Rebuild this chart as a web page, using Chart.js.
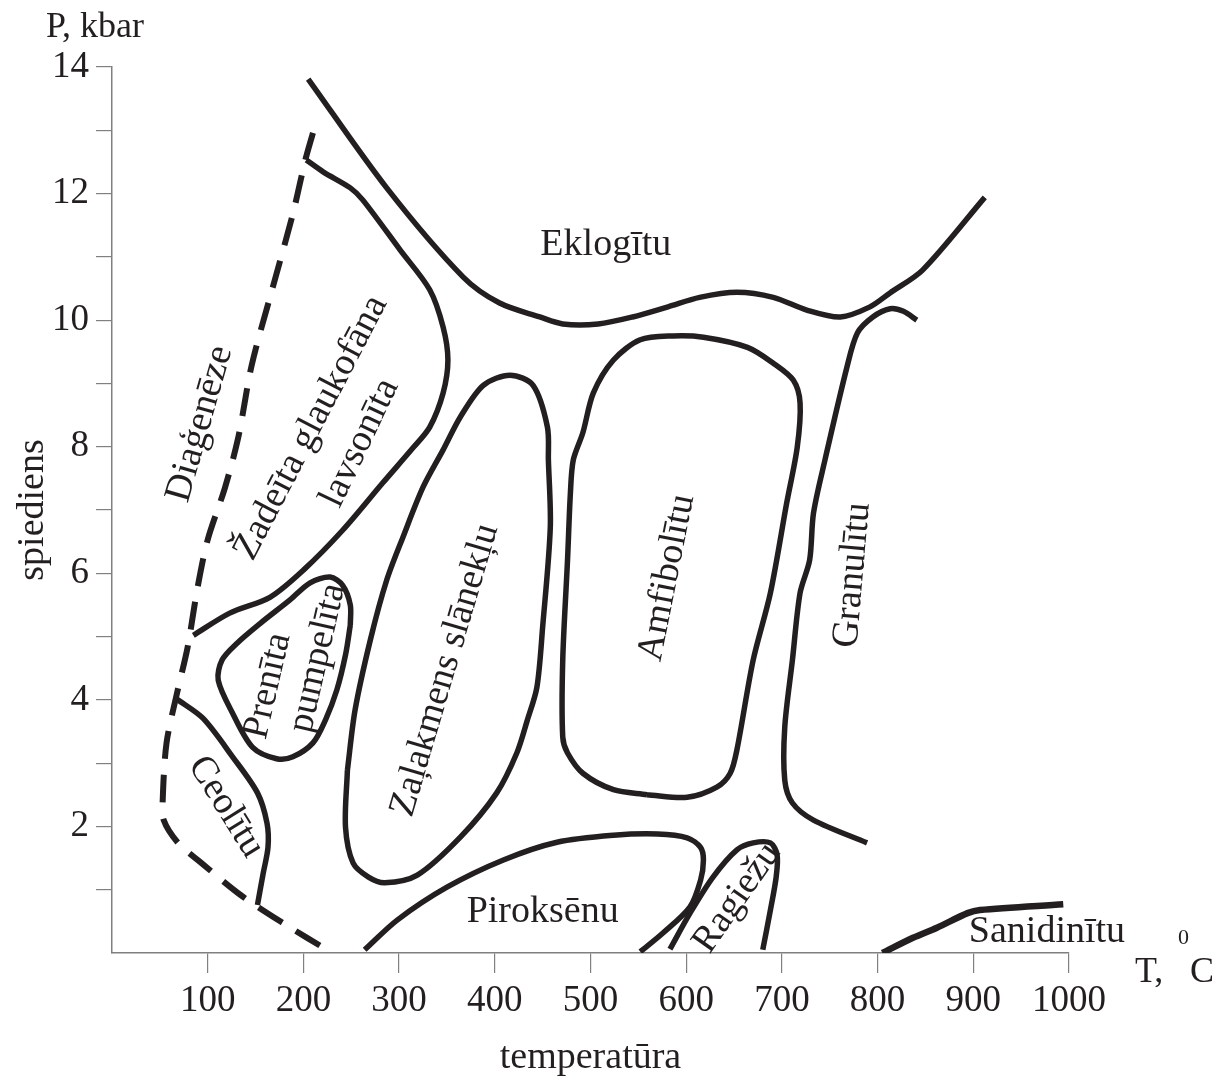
<!DOCTYPE html>
<html>
<head>
<meta charset="utf-8">
<script src="https://cdn.jsdelivr.net/npm/chart.js@4.4.0/dist/chart.umd.min.js"></script>
<style>
html, body { margin: 0; padding: 0; background: #fff; }
#wrap { width: 1218px; height: 1082px; }
</style>
</head>
<body>
<div id="wrap"><canvas id="chart" width="1218" height="1082"></canvas></div>
<script>
// facies boundaries, T in degC, P in kbar
var eclogiteT = [205, 287, 367, 405, 447, 471, 508, 544, 581, 614, 653, 691, 726, 761, 792, 813, 847, 912];
var eclogiteP = [13.81, 12.09, 10.68, 10.27, 10.05, 9.94, 9.94, 10.05, 10.21, 10.36, 10.44, 10.36, 10.16, 10.05, 10.21, 10.43, 10.79, 11.94];

var diagT = [210, 202, 189, 168, 146, 132, 118, 100, 89, 79, 68, 57, 53, 54, 69, 92, 134, 179, 228];
var diagP = [12.96, 12.53, 11.68, 10.52, 9.29, 8.15, 7.35, 6.53, 5.74, 4.83, 4.11, 3.32, 2.42, 2.10, 1.74, 1.44, 0.92, 0.47, 0.02];

var jadT = [203, 221, 249, 262, 301, 332, 346, 351, 346, 332, 315, 283, 241, 200, 165, 123, 85];
var jadP = [12.53, 12.34, 12.09, 11.90, 11.11, 10.48, 9.89, 9.37, 8.85, 8.31, 7.99, 7.43, 6.68, 6.05, 5.62, 5.37, 5.02];

var prehT = [249, 244, 235, 223, 210, 189, 172, 147, 126, 111, 115, 131, 155, 186, 207, 228, 241, 249, 249];
var prehP = [5.18, 4.71, 4.16, 3.68, 3.32, 3.10, 3.07, 3.25, 3.79, 4.31, 4.63, 4.90, 5.21, 5.58, 5.85, 5.94, 5.81, 5.50, 5.18];

var zeoT = [68, 95, 126, 152, 162, 163, 158, 152];
var zeoP = [4.01, 3.71, 3.10, 2.53, 2.05, 1.67, 1.26, 0.76];

var greenT = [246, 254, 270, 287, 304, 325, 346, 364, 388, 416, 440, 455, 456, 458, 450, 444, 434, 423, 402, 364, 319, 285, 268, 252, 244, 246];
var greenP = [2.89, 3.84, 4.95, 5.89, 6.57, 7.36, 7.95, 8.47, 8.97, 9.13, 8.97, 8.31, 7.79, 6.73, 5.15, 4.20, 3.68, 3.16, 2.53, 1.83, 1.23, 1.11, 1.20, 1.42, 1.99, 2.89];

var amphT = [559, 524, 492, 476, 471, 471, 476, 479, 482, 492, 503, 524, 552, 586, 618, 664, 691, 712, 719, 716, 705, 688, 670, 653, 646, 632, 601, 559];
var amphP = [2.50, 2.58, 2.84, 3.16, 3.41, 4.63, 6.21, 7.27, 7.79, 8.22, 8.85, 9.37, 9.69, 9.75, 9.73, 9.57, 9.32, 9.05, 8.69, 7.99, 7.11, 5.69, 4.63, 3.21, 2.84, 2.62, 2.46, 2.50];

var granT = [841, 827, 813, 795, 779, 768, 745, 733, 729, 719, 711, 703, 703, 711, 733, 789];
var granP = [10.0, 10.14, 10.18, 10.05, 9.80, 9.26, 7.79, 6.95, 6.21, 5.69, 4.63, 3.57, 2.73, 2.37, 2.10, 1.74];

var pyrT = [264, 298, 350, 409, 465, 524, 570, 601, 615, 618, 615, 604, 576, 552];
var pyrP = [0.05, 0.52, 1.04, 1.47, 1.75, 1.86, 1.88, 1.82, 1.67, 1.47, 1.15, 0.73, 0.32, 0.02];

var hornT = [583, 604, 628, 653, 670, 688, 695, 694, 688, 680];
var hornP = [0.06, 0.63, 1.20, 1.63, 1.74, 1.74, 1.55, 1.20, 0.68, 0.05];

var sanT = [805, 837, 862, 894, 907, 994];
var sanP = [0.0, 0.24, 0.40, 0.63, 0.68, 0.77];

var faciesNames = ["Eklogītu", "Piroksēnu", "Sanidinītu", "Diaģenēze", "Žadeīta glaukofāna",
  "lavsonīta", "Prenīta", "pumpelīta", "Ceolītu", "Zaļakmens slānekļu", "Amfibolītu",
  "Granulītu", "Ragiežu"];

var INK = "#231f20";
var AXIS = "#808080";
var SERIF = "'Liberation Serif', 'Times New Roman', serif";

function pts(ts, ps) {
  var out = [];
  for (var i = 0; i < ts.length; i++) {
    out.push({ x: ts[i], y: ps[i] });
  }
  return out;
}

function boundary(ts, ps, width, dash) {
  return {
    data: pts(ts, ps),
    showLine: true,
    borderColor: INK,
    borderWidth: width,
    borderDash: dash || [],
    pointRadius: 0,
    tension: 0.3,
    fill: false
  };
}

// where the facies names sit: [T, P, rotation deg]
var labelSpots = [
  [516, 11.19, 0], [450, 0.65, 0], [977, 0.33, 0], [92, 8.36, -74],
  [208, 8.30, -62.5], [259, 8.06, -64.5], [163, 4.22, -77], [215, 4.66, -77],
  [119, 2.31, 58], [348, 4.47, -73.5], [580, 5.93, -78.7], [774, 5.97, -85],
  [653, 0.87, -55]
];

var faciesLabels = {
  id: "faciesLabels",
  afterDatasetsDraw: function (chart) {
    var ctx = chart.ctx;
    var xs = chart.scales.x;
    var ys = chart.scales.y;
    var area = chart.chartArea;
    ctx.save();
    ctx.fillStyle = INK;
    ctx.font = "38px " + SERIF;
    ctx.textAlign = "center";
    ctx.textBaseline = "middle";
    for (var i = 0; i < faciesNames.length; i++) {
      var s = labelSpots[i];
      ctx.save();
      ctx.translate(xs.getPixelForValue(s[0]), ys.getPixelForValue(s[1]));
      ctx.rotate(s[2] * Math.PI / 180);
      ctx.fillText(faciesNames[i], 0, 0);
      ctx.restore();
    }

    // axis captions at the ends
    ctx.textBaseline = "alphabetic";
    ctx.font = "36px " + SERIF;
    ctx.fillText("P, kbar", area.left - 17, area.top - 30);
    ctx.textAlign = "left";
    ctx.fillText("T,", area.right + 66, area.bottom + 29);
    ctx.fillText("C", area.right + 121, area.bottom + 29);
    ctx.font = "22px " + SERIF;
    ctx.fillText("0", area.right + 109, area.bottom - 9);
    ctx.restore();
  }
};

var hideZero = function (c) {
  return c.tick && c.tick.value === 0 ? "rgba(0,0,0,0)" : AXIS;
};

new Chart(document.getElementById("chart"), {
  type: "scatter",
  data: {
    datasets: [
      boundary(eclogiteT, eclogiteP, 5.5),
      boundary(diagT, diagP, 6, [28, 16]),
      boundary(jadT, jadP, 5.5),
      boundary(prehT, prehP, 5.5),
      boundary(zeoT, zeoP, 5.5),
      boundary(greenT, greenP, 5.5),
      boundary(amphT, amphP, 5.5),
      boundary(granT, granP, 5.5),
      boundary(pyrT, pyrP, 5.5),
      boundary(hornT, hornP, 5.5),
      boundary(sanT, sanP, 6.5)
    ]
  },
  options: {
    responsive: false,
    animation: false,
    devicePixelRatio: 1,
    layout: { padding: { top: 67, right: 149, bottom: 0, left: 0 } },
    plugins: {
      legend: { display: false },
      tooltip: { enabled: false }
    },
    scales: {
      x: {
        type: "linear",
        min: 0,
        max: 1000,
        ticks: {
          stepSize: 100,
          autoSkip: false,
          maxRotation: 0,
          padding: 6,
          color: INK,
          font: { family: SERIF, size: 37 },
          callback: function (v) { return v === 0 ? "" : v; }
        },
        grid: { drawOnChartArea: false, drawTicks: true, tickLength: 20, color: hideZero, lineWidth: 1.2 },
        border: { color: AXIS, width: 1.5 },
        title: {
          display: true,
          text: "temperatūra",
          color: INK,
          font: { family: SERIF, size: 38 },
          padding: { top: 0, bottom: 1 }
        },
        afterFit: function (s) { s.height = 129; }
      },
      y: {
        type: "linear",
        min: 0,
        max: 14,
        ticks: {
          stepSize: 1,
          autoSkip: false,
          padding: 7,
          color: INK,
          font: { family: SERIF, size: 37 },
          callback: function (v) { return (v !== 0 && v % 2 === 0) ? v : ""; }
        },
        grid: { drawOnChartArea: false, drawTicks: true, tickLength: 16, color: hideZero, lineWidth: 1.2 },
        border: { color: AXIS, width: 1.5 },
        title: {
          display: true,
          text: "spiediens",
          color: INK,
          font: { family: SERIF, size: 38 },
          padding: { top: 10, bottom: 0 }
        },
        afterFit: function (s) { s.width = 112; }
      }
    }
  },
  plugins: [faciesLabels]
});
</script>
</body>
</html>
